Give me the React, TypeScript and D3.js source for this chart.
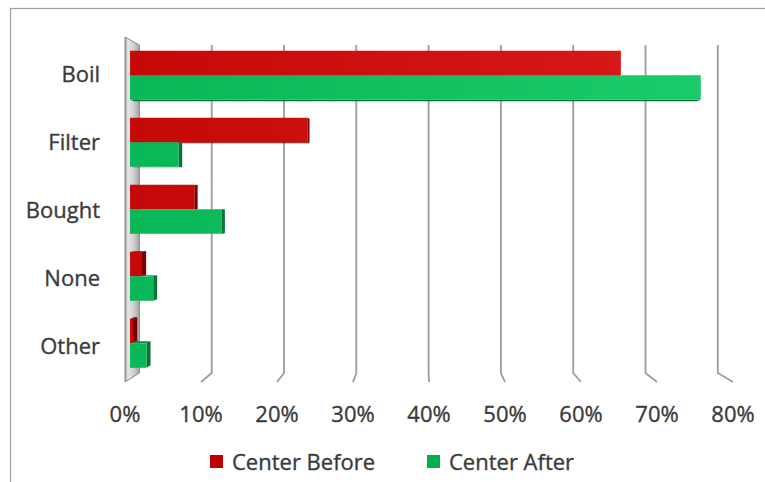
import React from "react";
import * as d3 from "d3";

// Water treatment method, share of households before and after the center opened
const categories = ["Boil", "Filter", "Bought", "None", "Other"];
const centerBefore = [0.657, 0.238, 0.086, 0.016, 0.004];
const centerAfter = [0.764, 0.065, 0.123, 0.031, 0.022];
const seriesNames = ["Center Before", "Center After"];
const tickValues = [0, 0.1, 0.2, 0.3, 0.4, 0.5, 0.6, 0.7, 0.8];

const W = 765;
const H = 482;
const FONT = "'Open Sans', 'DejaVu Sans', sans-serif";
const TEXT = "#3a3a3a";

// Front and back planes of the 3-D plot box
const frontX = d3.scaleLinear().domain([0, 0.8]).range([125, 733]);
const backX = d3.scaleLinear().domain([0, 0.8]).range([139.4, 717.8]);
const frontY = d3.scaleLinear().domain([0, 1]).range([37, 382]);
const backY = d3.scaleLinear().domain([0, 1]).range([45, 373]);

// v: value, u: vertical position (0 top .. 1 bottom), d: depth (0 front .. 1 back)
function project(v: number, u: number, d: number): [number, number] {
  return [
    d3.interpolateNumber(frontX(v), backX(v))(d),
    d3.interpolateNumber(frontY(u), backY(u))(d),
  ];
}

const band = d3
  .scaleBand<string>()
  .domain(categories)
  .range([0, 1])
  .paddingInner(0.27)
  .paddingOuter(0.165);

const D0 = 0.35; // bar front depth
const D1 = 0.65; // bar back depth

const pathOf = (pts: [number, number][]) => d3.line()(pts) + "Z";

type Bar = { v: number; u0: number; u1: number; s: number; key: string };

const bars: Bar[] = [];
categories.forEach((c, i) => {
  const u0 = band(c)!;
  const h = band.bandwidth() / 2;
  bars.push({ v: centerBefore[i], u0, u1: u0 + h, s: 0, key: c + "-b" });
  bars.push({ v: centerAfter[i], u0: u0 + h, u1: u0 + 2 * h, s: 1, key: c + "-a" });
});

const sideColor = ["#7d0303", "#06743a"];
const capColor = ["#9a0606", "#0a8a44"];

function BarFaces({ b }: { b: Bar }) {
  const faces: React.ReactNode[] = [];
  const fTop = project(b.v, b.u0, D0);
  const bTop = project(b.v, b.u0, D1);
  const fBot = project(b.v, b.u1, D0);
  const bBot = project(b.v, b.u1, D1);
  // right end face, visible when it turns toward the viewer
  if (bTop[0] > fTop[0]) {
    faces.push(
      <path key="side" d={pathOf([fTop, bTop, bBot, fBot])} fill={sideColor[b.s]} />
    );
  }
  // bottom face (above the horizon) or top face (below it)
  const l0 = project(0, b.u1, D0);
  const l1 = project(0, b.u1, D1);
  if (l1[1] > l0[1]) {
    faces.push(
      <path key="bot" d={pathOf([l0, fBot, bBot, l1])} fill={sideColor[b.s]} />
    );
  }
  const t0 = project(0, b.u0, D0);
  const t1 = project(0, b.u0, D1);
  if (t1[1] < t0[1]) {
    faces.push(
      <path key="top" d={pathOf([t0, fTop, bTop, t1])} fill={capColor[b.s]} />
    );
  }
  return <g>{faces}</g>;
}

function BarFront({ b }: { b: Bar }) {
  const pts: [number, number][] = [
    project(0, b.u0, D0),
    project(b.v, b.u0, D0),
    project(b.v, b.u1, D0),
    project(0, b.u1, D0),
  ];
  return <path d={pathOf(pts)} fill={`url(#fill${b.s})`} />;
}

const textStyle = {
  fontSize: 22,
  fill: TEXT,
  stroke: TEXT,
  strokeWidth: 0.35,
};

export default function App() {
  const pct = d3.format(".0%");
  const wall: [number, number][] = [
    project(0, 0, 0),
    project(0, 0, 1),
    project(0, 1, 1),
    project(0, 1, 0),
  ];
  const wallL = frontX(0);
  const wallR = backX(0);

  return (
    <svg
      width={W}
      height={H}
      style={{ position: "fixed", left: 0, top: 0, background: "#fff" }}
      fontFamily={FONT}
    >
      <defs>
        <linearGradient id="fill0" gradientUnits="userSpaceOnUse" x1={130} x2={700} y1={0} y2={0}>
          <stop offset="0" stopColor="#c50808" />
          <stop offset="1" stopColor="#d81a1a" />
        </linearGradient>
        <linearGradient id="fill1" gradientUnits="userSpaceOnUse" x1={130} x2={700} y1={0} y2={0}>
          <stop offset="0" stopColor="#0ab756" />
          <stop offset="1" stopColor="#1bca68" />
        </linearGradient>
        <linearGradient id="wallFill" gradientUnits="userSpaceOnUse" x1={wallL} x2={wallR} y1={0} y2={0}>
          <stop offset="0" stopColor="#9a9a9a" />
          <stop offset="0.2" stopColor="#e6e6e6" />
          <stop offset="0.6" stopColor="#d0d0d0" />
          <stop offset="1" stopColor="#a4a4a4" />
        </linearGradient>
      </defs>

      <rect x={10.5} y={8.5} width={900} height={600} fill="#fff" stroke="#a0a0a0" strokeWidth={1.2} />

      {/* gridlines on the back wall with their floor returns */}
      {tickValues
        .filter((t) => t > 0)
        .map((t) => (
          <path
            key={t}
            d={d3.line()([project(t, 0, 1), project(t, 1, 1), project(t, 1, 0)])!}
            fill="none"
            stroke="#9c9c9c"
            strokeWidth={1.8}
          />
        ))}

      {/* side wall at 0% */}
      <path d={pathOf(wall)} fill="url(#wallFill)" stroke="#8a8a8a" strokeWidth={1} />

      {bars.map((b) => (
        <BarFaces key={b.key} b={b} />
      ))}
      {bars.map((b) => (
        <BarFront key={b.key} b={b} />
      ))}

      {/* category labels */}
      {categories.map((c) => (
        <text
          key={c}
          x={100}
          y={frontY(band(c)! + band.bandwidth() / 2) + 8.5}
          textAnchor="end"
          {...textStyle}
        >
          {c}
        </text>
      ))}

      {/* value axis labels */}
      {tickValues.map((t) => (
        <text key={t} x={frontX(t)} y={421.5} textAnchor="middle" {...textStyle}>
          {pct(t)}
        </text>
      ))}

      {/* legend */}
      {seriesNames.map((n, i) => {
        const x0 = [210, 427][i];
        return (
          <g key={n}>
            <rect x={x0} y={455} width={13} height={13} fill={["#c00000", "#00b050"][i]} />
            <text x={x0 + 22} y={470} {...textStyle}>
              {n}
            </text>
          </g>
        );
      })}
    </svg>
  );
}
